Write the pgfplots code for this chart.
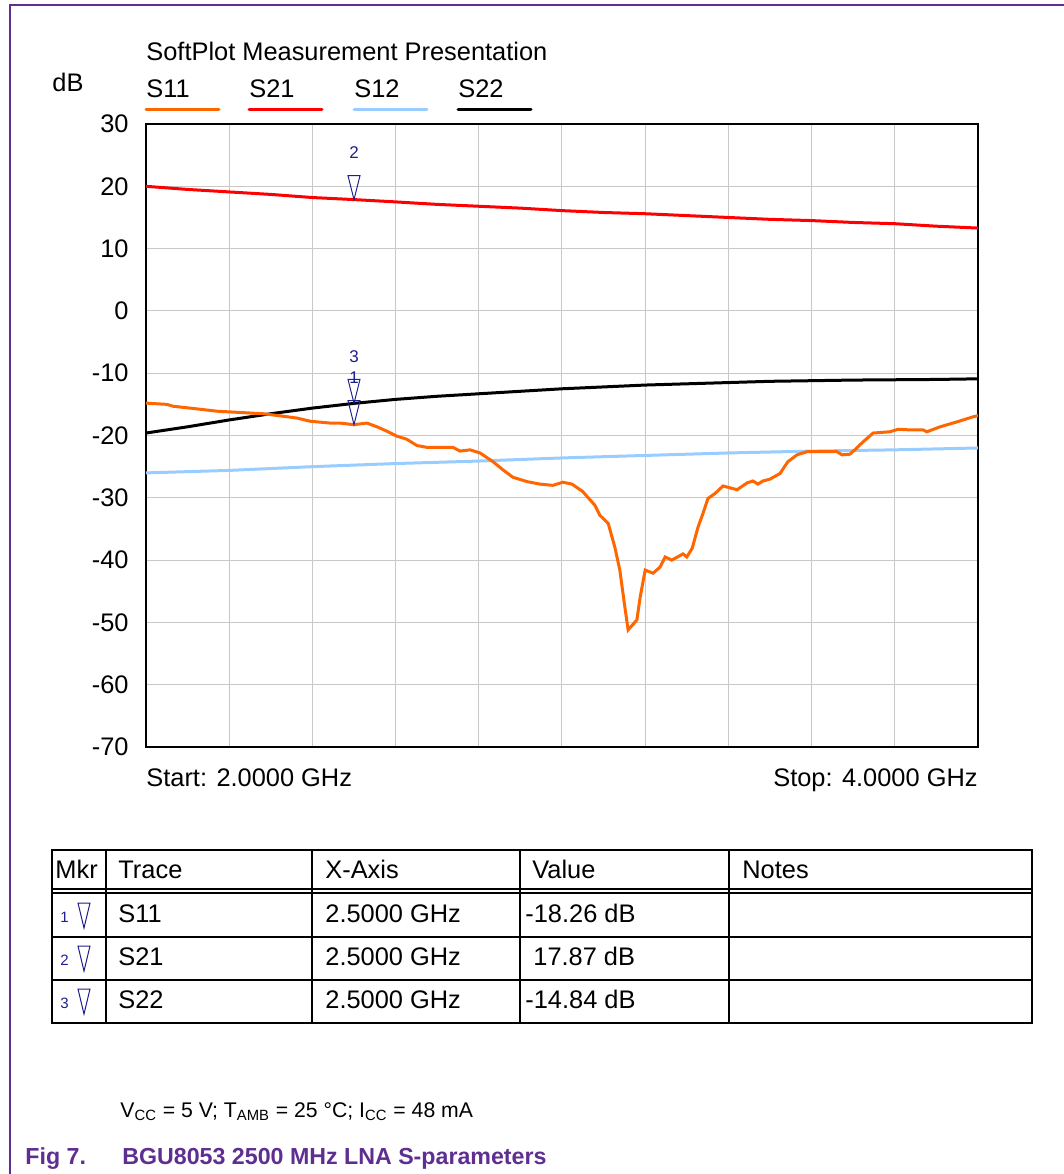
\documentclass[border=0pt]{standalone}
\usepackage{fontspec}
\setmainfont{Liberation Sans}
\usepackage{pgfplots}
\pgfplotsset{compat=1.18}
\definecolor{sorange}{HTML}{FF6600}
\definecolor{sred}{HTML}{FF0000}
\definecolor{sblue}{HTML}{99CCFF}
\definecolor{gridgray}{HTML}{C8C8C8}
\definecolor{mkblue}{HTML}{1E1E8C}
\definecolor{nxppurple}{RGB}{94,46,145}
\pgfdeclareplotmark{mkr}{%
  \pgfpathmoveto{\pgfpoint{0pt}{0pt}}%
  \pgfpathlineto{\pgfpoint{-3pt}{12pt}}%
  \pgfpathlineto{\pgfpoint{3pt}{12pt}}%
  \pgfpathclose\pgfusepathqstroke}
\newcommand\cf{\fontsize{12.7}{15}\selectfont}
\begin{document}
\begin{tikzpicture}
\useasboundingbox (0,0) rectangle (532pt,-587pt);
\begin{axis}[at={(73pt,-373.5pt)}, anchor=south west,
  width=416pt, height=311.5pt, scale only axis,
  xmin=2, xmax=4, ymin=-70, ymax=30,
  xtick={2,2.2,2.4,2.6,2.8,3,3.2,3.4,3.6,3.8,4}, xticklabel={\mbox{}},
  ytick={-70,-60,-50,-40,-30,-20,-10,0,10,20,30},
  yticklabels={-70,-60,-50,-40,-30,-20,-10,0,10,20,30},
  grid=major, major grid style={draw=gridgray, line width=0.5pt},
  major tick length=0pt,
  axis line style={line width=1pt, black},
  yticklabel style={font=\cf, inner sep=0pt, anchor=east, xshift=-8.5pt},
  every axis plot/.append style={line width=1.5pt},
]
% S12
\addplot[sblue, no marks] coordinates {
(2.0,-26.0)(2.2,-25.6)(2.4,-25.0)(2.6,-24.5)(2.8,-24.1)(3.0,-23.6)
(3.2,-23.2)(3.4,-22.8)(3.6,-22.5)(3.8,-22.3)(4.0,-22.0)};
% S22
\addplot[black, no marks] coordinates {
(2.0,-19.6)(2.1,-18.6)(2.2,-17.5)(2.3,-16.5)(2.4,-15.6)(2.5,-14.84)
(2.6,-14.2)(2.7,-13.7)(2.8,-13.3)(2.9,-12.9)(3.0,-12.5)(3.1,-12.2)
(3.2,-11.9)(3.3,-11.7)(3.4,-11.5)(3.5,-11.3)(3.6,-11.2)(3.7,-11.1)
(3.8,-11.05)(3.9,-11.0)(4.0,-10.9)};
% S21
\addplot[sred, no marks] coordinates {
(2.0,20.0)(2.1,19.5)(2.2,19.1)(2.3,18.7)(2.4,18.2)(2.5,17.87)
(2.6,17.5)(2.7,17.1)(2.8,16.8)(2.9,16.5)(3.0,16.1)(3.1,15.8)
(3.2,15.6)(3.3,15.3)(3.4,15.0)(3.5,14.7)(3.6,14.5)(3.7,14.2)
(3.8,14.0)(3.9,13.6)(4.0,13.3)};
% S11
\addplot[sorange, no marks] coordinates {
(2.000,-14.8)(2.050,-15.0)(2.065,-15.3)(2.106,-15.6)(2.171,-16.1)
(2.226,-16.3)(2.281,-16.5)(2.329,-16.9)(2.363,-17.2)(2.394,-17.7)
(2.442,-18.0)(2.466,-18.0)(2.500,-18.26)(2.531,-18.0)(2.555,-18.6)
(2.579,-19.3)(2.603,-20.1)(2.627,-20.6)(2.651,-21.6)(2.675,-21.9)
(2.738,-21.9)(2.755,-22.5)(2.779,-22.3)(2.803,-22.8)(2.834,-24.2)
(2.858,-25.5)(2.882,-26.7)(2.916,-27.4)(2.947,-27.8)(2.978,-28.0)
(3.002,-27.5)(3.024,-27.8)(3.050,-29.0)(3.079,-31.2)(3.091,-32.8)
(3.111,-34.1)(3.127,-37.9)(3.139,-41.6)(3.151,-47.5)(3.159,-51.2)
(3.180,-49.6)(3.188,-45.9)(3.200,-41.6)(3.219,-42.1)(3.236,-41.1)
(3.248,-39.5)(3.264,-40.0)(3.291,-39.0)(3.300,-39.5)(3.313,-38.1)
(3.327,-34.7)(3.339,-32.5)(3.351,-30.1)(3.368,-29.3)(3.387,-28.1)
(3.421,-28.7)(3.445,-27.6)(3.459,-27.3)(3.471,-27.8)(3.483,-27.3)
(3.500,-27.0)(3.524,-26.1)(3.543,-24.2)(3.565,-23.1)(3.589,-22.6)
(3.627,-22.6)(3.661,-22.6)(3.673,-23.1)(3.692,-23.0)(3.704,-22.3)
(3.724,-21.0)(3.748,-19.6)(3.788,-19.4)(3.808,-19.0)(3.837,-19.1)
(3.868,-19.1)(3.877,-19.4)(3.909,-18.6)(3.950,-17.8)(3.988,-17.0)
(4.000,-16.8)};
% markers
\pgfplotsset{mkrstyle/.style={only marks, mark=mkr, line width=0.5pt,
  mark options={draw=mkblue, fill=none, line width=0.5pt},
  nodes near coords={#1},
  every node near coord/.style={anchor=base, yshift=20.5pt, inner sep=0pt,
    font=\fontsize{8.5}{10}\selectfont, text=mkblue}}}
\addplot[mkrstyle=1] coordinates {(2.5,-18.26)};
\addplot[mkrstyle=3] coordinates {(2.5,-14.84)};
\addplot[mkrstyle=2] coordinates {(2.5,17.87)};
\end{axis}
\begin{scope}[x=0.5pt, y=-0.5pt]
% frame
\draw[nxppurple, line width=0.8pt] (10,1174) -- (10,5) -- (1064,5);
% title, unit, legend
\node[anchor=base west, inner sep=0pt, font=\cf] at (146,60) {SoftPlot Measurement Presentation};
\node[anchor=base west, inner sep=0pt, font=\cf] at (52,91) {dB};
\foreach \xx/\nm/\cl in {146/S11/sorange, 249/S21/sred, 354/S12/sblue, 458/S22/black}{
  \node[anchor=base west, inner sep=0pt, font=\cf] at (\xx,97) {\nm};
  \draw[\cl, line width=1.5pt, line cap=round] (\xx,109) -- ++(73,0);
}
% start/stop
\node[anchor=base west, inner sep=0pt, font=\cf] at (146,786) {Start: 2.0000 GHz};
\node[anchor=base east, inner sep=0pt, font=\cf] at (978,786) {Stop: 4.0000 GHz};
% table
\draw[line width=0.6pt] (52,850) rectangle (1032,1023);
\foreach \xx in {106,312,520,729} \draw[line width=0.6pt] (\xx,850) -- (\xx,1023);
\foreach \yy in {889,893,937,980} \draw[line width=0.6pt] (52,\yy) -- (1032,\yy);
\node[anchor=base west, inner sep=0pt, font=\cf] at (55,878) {Mkr};
\node[anchor=base west, inner sep=0pt, font=\cf] at (118,878) {Trace};
\node[anchor=base west, inner sep=0pt, font=\cf] at (325,878) {X-Axis};
\node[anchor=base west, inner sep=0pt, font=\cf] at (532,878) {Value};
\node[anchor=base west, inner sep=0pt, font=\cf] at (742,878) {Notes};
\foreach \bl/\n/\tr/\vx/\val in {922/1/S11/525/-18.26 dB, 965/2/S21/533/17.87 dB, 1008/3/S22/525/-14.84 dB}{
  \node[anchor=base west, inner sep=0pt, font=\fontsize{7.5}{9}\selectfont, text=mkblue] at (60,\bl) {\n};
  \draw[mkblue, line width=0.5pt] (84,\bl+6) -- (78,\bl-19) -- (90,\bl-19) -- cycle;
  \node[anchor=base west, inner sep=0pt, font=\cf] at (118,\bl) {\tr};
  \node[anchor=base west, inner sep=0pt, font=\cf] at (325,\bl) {2.5000 GHz};
  \node[anchor=base west, inner sep=0pt, font=\cf] at (\vx,\bl) {\val};
}
% caption
\node[anchor=base west, inner sep=0pt, font=\fontsize{10.6}{13}\selectfont] at (120,1117)
  {V\textsubscript{CC} = 5 V; T\textsubscript{AMB} = 25 °C; I\textsubscript{CC} = 48 mA};
\node[anchor=base west, inner sep=0pt, font=\fontsize{11.6}{14}\selectfont\bfseries, text=nxppurple] at (25,1164) {Fig 7.};
\node[anchor=base west, inner sep=0pt, font=\fontsize{11.6}{14}\selectfont\bfseries, text=nxppurple] at (122,1164) {BGU8053 2500 MHz LNA S-parameters};
\end{scope}
\end{tikzpicture}
\end{document}
